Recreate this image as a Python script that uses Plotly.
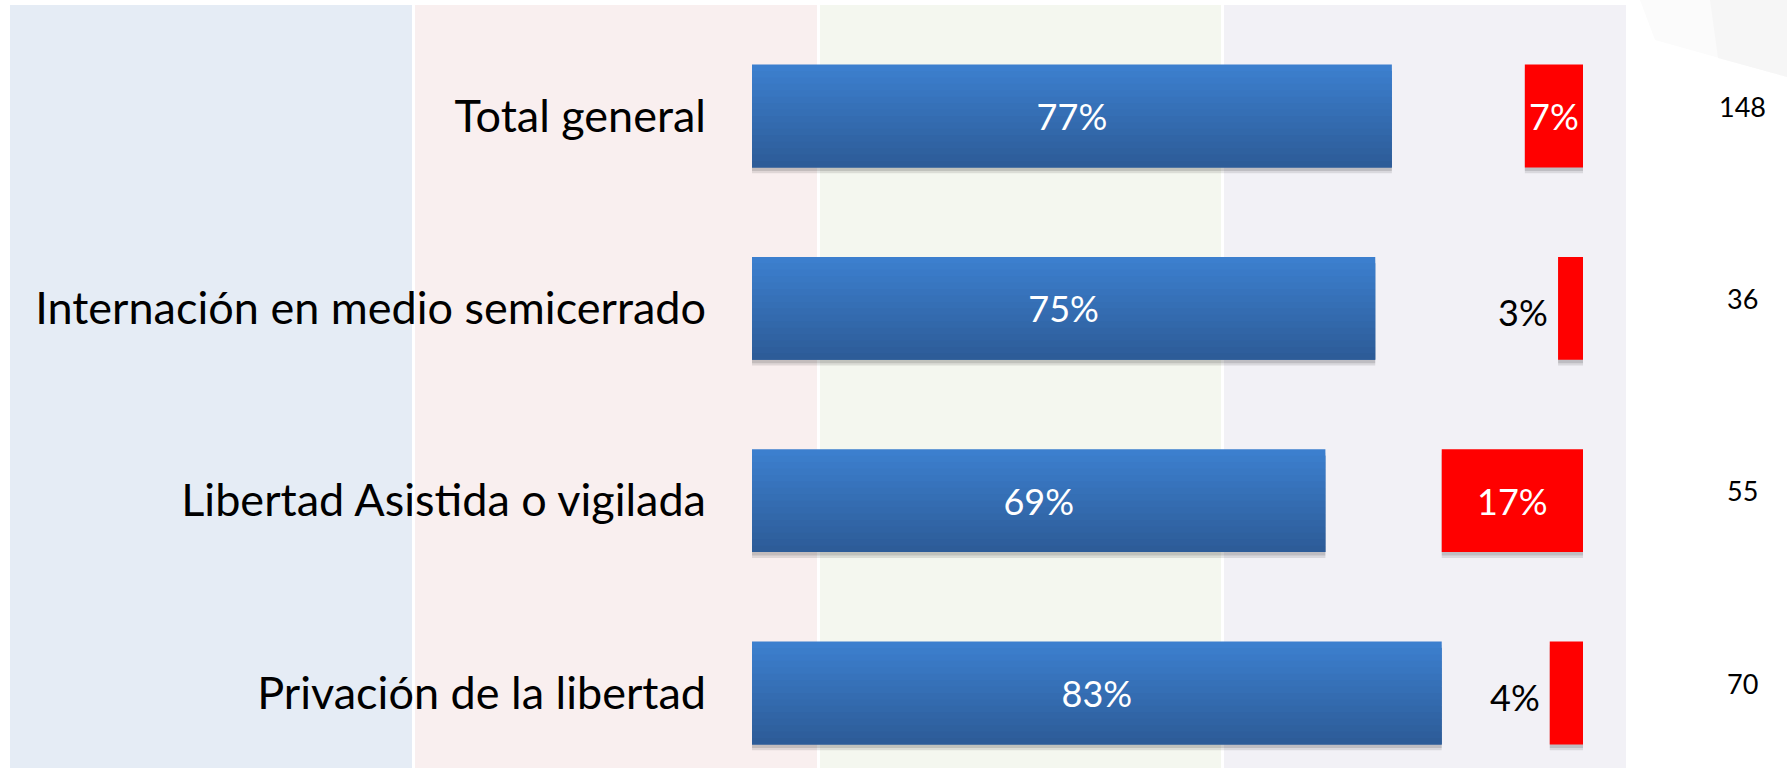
import plotly.graph_objects as go

# ---- data ----
categories = ["Total general", "Internación en medio semicerrado",
              "Libertad Asistida o vigilada", "Privación de la libertad"]
positive = [77, 75, 69, 83]      # blue share (%)
negative = [7, 3, 17, 4]         # red share (%)
counts = [148, 36, 55, 70]       # n per row

W, H = 1787, 768
FONT = "Lato"

def px(x):
    return x / W

def py(y):
    return 1 - y / H

bar_w = 0.535
fig = go.Figure()

# shadows
neg_base = [100 - v for v in negative]
for off, col in [(0.03, "rgba(0,0,0,0.10)"), (0.018, "rgba(0,0,0,0.12)")]:
    fig.add_trace(go.Bar(y=categories, x=positive, base=0, orientation="h",
                         width=bar_w, offset=-bar_w / 2 + off,
                         marker=dict(color=col, line=dict(width=0)),
                         hoverinfo="skip", showlegend=False))
    fig.add_trace(go.Bar(y=categories, x=negative, base=neg_base, orientation="h",
                         width=bar_w, offset=-bar_w / 2 + off,
                         marker=dict(color=col, line=dict(width=0)),
                         hoverinfo="skip", showlegend=False))

# blue bars with a vertical gradient (overlapping strips)
top_c = (60, 127, 206)
bot_c = (45, 92, 152)
N = 16
step = bar_w / N
for i in range(N):
    t = i / (N - 1)
    c = tuple(round(top_c[k] + (bot_c[k] - top_c[k]) * t) for k in range(3))
    w = min(2 * step, bar_w - i * step)
    fig.add_trace(go.Bar(y=categories, x=positive, base=0, orientation="h",
                         width=w, offset=-bar_w / 2 + i * step,
                         marker=dict(color="rgb(%d,%d,%d)" % c, line=dict(width=0)),
                         hoverinfo="skip", showlegend=False))

# red bars
red_text = [f"{v}%" if v >= 5 else "" for v in negative]
fig.add_trace(go.Bar(y=categories, x=negative, base=neg_base, orientation="h",
                     width=bar_w, offset=-bar_w / 2,
                     marker=dict(color="#FF0000", line=dict(width=0)),
                     text=red_text, textposition="inside", insidetextanchor="middle",
                     insidetextfont=dict(color="white", size=36, family=FONT),
                     hoverinfo="skip", showlegend=False))

# blue labels (transparent carrier bar)
fig.add_trace(go.Bar(y=categories, x=positive, base=0, orientation="h",
                     width=bar_w, offset=-bar_w / 2,
                     marker=dict(color="rgba(0,0,0,0)", line=dict(width=0)),
                     text=[f"{v}%" for v in positive], textposition="inside",
                     insidetextanchor="middle",
                     insidetextfont=dict(color="white", size=36, family=FONT),
                     hoverinfo="skip", showlegend=False))

annotations = []
for cat, v, b in zip(categories, negative, neg_base):
    if v < 5:
        annotations.append(dict(x=b, y=cat, xref="x", yref="y", text=f"{v}%",
                                showarrow=False, xanchor="right", xshift=-8, yshift=-4,
                                font=dict(size=36, color="black", family=FONT)))
for cat, n in zip(categories, counts):
    annotations.append(dict(x=px(1742), y=cat, xref="paper", yref="y", text=str(n),
                            showarrow=False, xanchor="center", yshift=10,
                            font=dict(size=27, color="black", family=FONT)))

# background bands
band_x = [(10, 412), (415, 817), (820, 1221), (1224, 1626)]
band_c = ["#E5ECF5", "#F9EFEF", "#F4F7EF", "#F2F1F6"]
shapes = []
for (a, b), c in zip(band_x, band_c):
    shapes.append(dict(type="rect", xref="paper", yref="paper",
                       x0=px(a), x1=px(b), y0=0, y1=py(5),
                       fillcolor=c, line=dict(width=0), layer="below"))
# decorative wedge top-right
shapes.append(dict(type="path", xref="paper", yref="paper", layer="below",
                   path=f"M {px(1640)},{py(0)} L {px(1787)},{py(0)} L {px(1787)},{py(77)} L {px(1655)},{py(40)} Z",
                   fillcolor="#FBFBFB", line=dict(width=0)))
shapes.append(dict(type="path", xref="paper", yref="paper", layer="below",
                   path=f"M {px(1710)},{py(0)} L {px(1787)},{py(0)} L {px(1787)},{py(77)} L {px(1718)},{py(58)} Z",
                   fillcolor="#F6F6F6", line=dict(width=0)))

row_px = 192.33
y_top = 0 - 116 / row_px
y_bot = 3 + (H - 693) / row_px

fig.update_layout(
    width=W, height=H,
    margin=dict(l=0, r=0, t=0, b=0),
    paper_bgcolor="white", plot_bgcolor="rgba(0,0,0,0)",
    barmode="overlay",
    showlegend=False,
    shapes=shapes,
    annotations=annotations,
    xaxis=dict(range=[0, 100], domain=[px(752), px(1583)], visible=False,
               fixedrange=True),
    yaxis=dict(type="category", categoryorder="array", categoryarray=categories,
               range=[y_bot, y_top], showgrid=False, zeroline=False, showline=False,
               ticks="", ticklabelstandoff=45, fixedrange=True,
               tickfont=dict(size=45, color="black", family=FONT)),
)

fig.write_html("out.html", config={"displayModeBar": False},
               post_script="document.body.style.margin='0';document.body.style.overflow='hidden';")
